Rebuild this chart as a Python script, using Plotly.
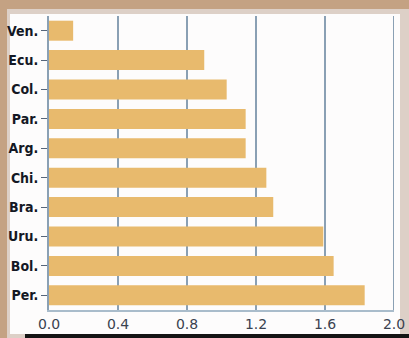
import plotly.graph_objects as go

# Country codes, top to bottom, and their values
countries = ["Ven.", "Ecu.", "Col.", "Par.", "Arg.", "Chi.", "Bra.", "Uru.", "Bol.", "Per."]
values = [0.14, 0.90, 1.03, 1.14, 1.14, 1.26, 1.30, 1.59, 1.65, 1.83]
x_ticks = [0.0, 0.4, 0.8, 1.2, 1.6, 2.0]
x_tick_labels = ["0.0", "0.4", "0.8", "1.2", "1.6", "2.0"]

W, H = 409, 338
L, R, T, B = 49, 15, 16, 28
PW, PH = W - L - R, H - T - B


def px(x):
    return (x - L) / PW


def py(y):
    return (H - B - y) / PH


fig = go.Figure()
fig.add_trace(go.Bar(
    y=countries,
    x=values,
    orientation="h",
    marker=dict(color="#e8ba6d", line=dict(width=0)),
    width=0.68,
))

shapes = [
    # light frame and white panel
    dict(type="rect", xref="paper", yref="paper", x0=px(7), x1=px(412), y0=py(342), y1=py(9),
         fillcolor="#ddd0c7", line=dict(width=0), layer="below"),
    dict(type="rect", xref="paper", yref="paper", x0=px(10), x1=px(400), y0=py(334), y1=py(14),
         fillcolor="#fdfcfc", line=dict(width=0), layer="below"),
    dict(type="rect", xref="paper", yref="paper", x0=px(25), x1=px(412), y0=py(342), y1=py(334),
         fillcolor="#141414", line=dict(width=0), layer="below"),
]

fig.update_layout(
    width=W, height=H,
    margin=dict(l=L, r=R, t=T, b=B, autoexpand=False),
    paper_bgcolor="#c4a283",
    plot_bgcolor="rgba(0,0,0,0)",
    showlegend=False,
    shapes=shapes,
    bargap=0.32,
)
fig.update_xaxes(
    range=[0, 2.0],
    tickvals=x_ticks,
    ticktext=x_tick_labels,
    showgrid=True, gridcolor="#8aa0b4", gridwidth=2,
    showline=True, linecolor="#a9bccb", linewidth=2,
    zeroline=False,
    ticks="", ticklabelstandoff=0,
    automargin=False,
    tickfont=dict(family="DejaVu Sans", size=14, color="#3a4250"),
)
fig.update_yaxes(
    categoryorder="array", categoryarray=countries,
    autorange="reversed",
    showgrid=False,
    showline=True, linecolor="#8aa0b4", linewidth=2,
    ticks="outside", ticklen=6, tickcolor="#55657a", tickwidth=1,
    automargin=False,
    tickfont=dict(family="DejaVu Sans Condensed", size=14, color="#141824", weight="bold"),
)

# right-hand frame line at 2.0
fig.add_shape(type="line", xref="x", yref="paper", x0=2.0, x1=2.0, y0=0, y1=1,
              line=dict(color="#8aa0b4", width=2))

fig.write_html("out.html")
